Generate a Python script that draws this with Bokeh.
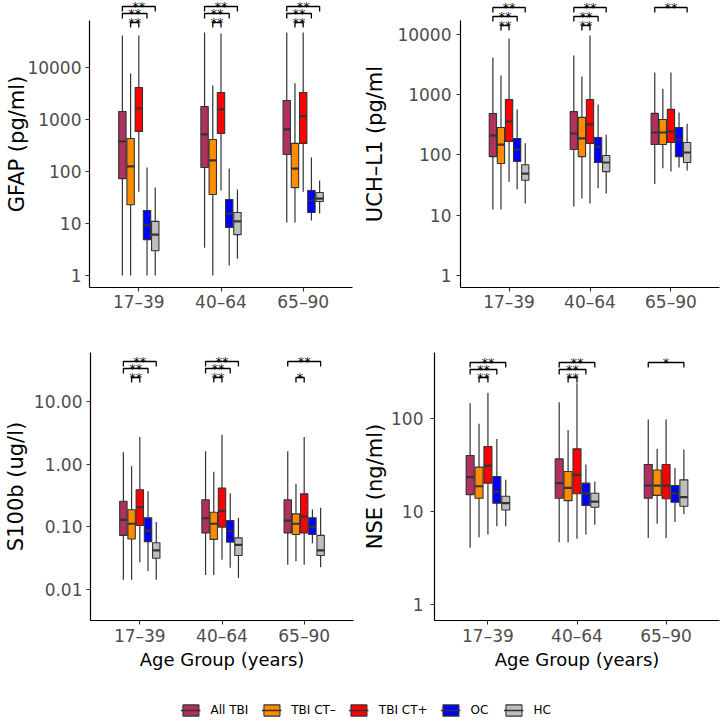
import numpy as np
from bokeh.plotting import figure
from bokeh.layouts import column, row
from bokeh.models import (ColumnDataSource, FixedTicker, NumeralTickFormatter,
                          Legend, LegendItem, Range1d)
from bokeh.core.properties import value
from bokeh.embed import file_html
from bokeh.resources import INLINE

# ---------------- data ----------------
age_groups = ["17–39", "40–64", "65–90"]
categories = ["All TBI", "TBI CT–", "TBI CT+", "OC", "HC"]
colors = ["#B03060", "#FF8C00", "#FF0000", "#0000FF", "#BEBEBE"]

# order: 17-39 (All, CT-, CT+, OC, HC), 40-64 (...), 65-90 (...)
gfap_low = [1, 1, 41, 1, 1, 3.4, 1, 43, 1.56, 2.1, 10.4, 10.4, 41, 11.4, 15.5]
gfap_q1 = [73, 23, 590, 4.9, 3.0, 119, 36, 540, 8.4, 6.1, 212, 49, 347, 16.3, 26.5]
gfap_med = [378, 125, 1625, 9.2, 6.1, 515, 163, 1560, 15.5, 11, 645, 114, 1150, 27.7, 30]
gfap_q3 = [1425, 431, 4125, 17.8, 11, 1780, 412, 3300, 29, 16.3, 2320, 347, 3300, 43, 39.5]
gfap_high = [41200, 7670, 41000, 119, 49, 47100, 4500, 45000, 114, 45, 47000, 5000, 47000, 186, 67]

uch_low = [12.5, 12.5, 36, 27, 15.7, 14, 19, 15.7, 28, 23, 33, 60, 53, 62, 55]
uch_q1 = [94, 72, 168, 78, 38, 123, 94, 156, 75, 53, 149, 149, 161, 94, 75]
uch_med = [211, 149, 360, 123, 49, 227, 188, 321, 138, 75, 236, 236, 245, 180, 110]
uch_q3 = [488, 286, 835, 188, 69, 525, 420, 835, 195, 98, 490, 388, 570, 286, 161]
uch_high = [4150, 2090, 8600, 569, 156, 4470, 2010, 9600, 689, 216, 2340, 1260, 2340, 507, 331]

s100_low = [0.0143, 0.0143, 0.0273, 0.0196, 0.0143, 0.0171, 0.0171, 0.0297, 0.0222, 0.0152,
            0.0248, 0.0283, 0.0248, 0.0548, 0.0227]
s100_q1 = [0.073, 0.064, 0.105, 0.058, 0.0316, 0.080, 0.063, 0.099, 0.057, 0.0349,
           0.080, 0.0755, 0.080, 0.0755, 0.0349]
s100_med = [0.129, 0.112, 0.206, 0.087, 0.042, 0.137, 0.112, 0.178, 0.085, 0.0516,
            0.126, 0.112, 0.146, 0.099, 0.042]
s100_q3 = [0.256, 0.187, 0.39, 0.139, 0.0556, 0.27, 0.171, 0.414, 0.126, 0.0667,
           0.27, 0.161, 0.336, 0.139, 0.073]
s100_high = [1.55, 0.93, 2.7, 0.37, 0.119, 1.61, 0.76, 2.94, 0.344, 0.139,
             1.61, 0.485, 2.7, 0.189, 0.201]

nse_low = [4.07, 5.3, 5.66, 6.95, 6.95, 4.68, 4.68, 5.08, 5.66, 7.19, 5.2, 7.4, 5.2, 7.7, 9.4]
nse_q1 = [15.2, 13.9, 20.2, 12.3, 10.4, 13.9, 13.1, 15.5, 11.6, 11.1, 13.9, 14.9, 13.7, 12.6, 11.4]
nse_med = [23.4, 18.7, 31.2, 16.4, 12.3, 20.2, 18, 24.8, 15.7, 12.8, 19, 19, 19, 15.7, 14.3]
nse_q3 = [40, 30, 50, 23.8, 14.6, 36.8, 26.9, 47.2, 20.2, 15.7, 32, 28, 32, 19, 21.9]
nse_high = [146, 87.7, 189, 60.4, 21.9, 150, 75.5, 240, 32, 21, 97.5, 47.2, 97.5, 29.3, 46.5]

# axis limits
gfap_ylim = (0.588, 194000)
uch_ylim = (0.632, 36600)
s100_ylim = (0.0032, 60.5)
nse_ylim = (0.673, 513)
gfap_axis_top = 80100
uch_axis_top = 17100

# significance comparisons: (group index, category a, category b, level, label)
sig_full = [(0, 0, 4, 2, "**"), (0, 0, 3, 1, "**"), (0, 1, 2, 0, "**")]
def per_group(g):
    return [(g, a, b, lv, lab) for (_, a, b, lv, lab) in sig_full]
gfap_sig = per_group(0) + per_group(1) + per_group(2)
uch_sig = per_group(0) + per_group(1) + [(2, 0, 4, 2, "**")]
s100_sig = per_group(0) + per_group(1) + [(2, 0, 4, 2, "**"), (2, 1, 2, 0, "*")]
nse_sig = per_group(0) + per_group(1) + [(2, 0, 4, 2, "*")]

# ---------------- style ----------------
FONT = "DejaVu Sans"
OUTLINE = "#333333"
BOX_W = 0.09
DODGE = 0.1
TIP_PX = 5


def make_panel(ylabel, low, q1, med, q3, high, ylim, yticks, fmt, sig, sig_px,
               width, height, mbl, mbr, mbt, mbb, ylab_standoff, ytick_std=4,
               xlabel=None, axis_top=None, xlab_std=0):
    p = figure(width=width, height=height, x_range=Range1d(0.4, 3.6),
               y_range=Range1d(*ylim), y_axis_type="log",
               output_backend="svg", toolbar_location=None,
               min_border_left=mbl, min_border_right=mbr,
               min_border_top=mbt, min_border_bottom=mbb)
    gi = np.repeat(np.arange(len(age_groups)), len(categories))
    ci = np.tile(np.arange(len(categories)), len(age_groups))
    x = (gi + 1) + (ci - (len(categories) - 1) / 2) * DODGE
    src = ColumnDataSource(dict(
        x=x, xl=x - BOX_W / 2, xr=x + BOX_W / 2,
        low=low, q1=q1, med=med, q3=q3, high=high,
        color=[colors[c] for c in ci]))
    p.segment(x0="x", y0="low", x1="x", y1="high", source=src,
              line_color=OUTLINE, line_width=1.2)
    p.vbar(x="x", width=BOX_W, bottom="q1", top="q3", source=src,
           fill_color="color", line_color=OUTLINE, line_width=1.1)
    p.segment(x0="xl", y0="med", x1="xr", y1="med", source=src,
              line_color=OUTLINE, line_width=2.2)

    # significance brackets
    frame_h = height - mbt - mbb
    ppd = frame_h / np.log10(ylim[1] / ylim[0])
    levels = [ylim[1] / 10 ** (px / ppd) for px in sig_px]
    tipf = 10 ** (TIP_PX / ppd)
    xs, ys, tx, ty, tl = [], [], [], [], []
    for (g, a, b, lv, lab) in sig:
        x0 = g + 1 + (a - 2) * DODGE
        x1 = g + 1 + (b - 2) * DODGE
        y = levels[lv]
        xs.append([x0, x0, x1, x1])
        ys.append([y / tipf, y, y, y / tipf])
        tx.append((x0 + x1) / 2)
        ty.append(y)
        tl.append(lab)
    p.multi_line(xs=xs, ys=ys, line_color="black", line_width=1.3)
    p.text(x=tx, y=ty, text=tl, text_align="center", text_baseline="middle",
           text_font=value(FONT), text_font_size="13px", text_color="#000000",
           text_alpha=0.98)

    p.xaxis.ticker = FixedTicker(ticks=[1, 2, 3])
    p.xaxis.major_label_overrides = {i + 1: g for i, g in enumerate(age_groups)}
    p.yaxis.ticker = FixedTicker(ticks=yticks)
    p.yaxis.formatter = NumeralTickFormatter(format=fmt)
    for ax in p.axis:
        ax.minor_tick_line_color = None
        ax.major_tick_in = 0
        ax.major_tick_out = 4
        ax.major_tick_line_color = OUTLINE
        ax.major_tick_line_width = 1.1
        ax.axis_line_color = "black"
        ax.axis_line_width = 1.2
        ax.major_label_text_font = FONT
        ax.major_label_text_font_size = "17px"
        ax.major_label_text_color = "#4D4D4D"
        ax.axis_label_text_font = FONT
        ax.axis_label_text_font_style = "normal"
        ax.axis_label_text_color = "black"
    p.yaxis.major_label_standoff = ytick_std
    p.xaxis.major_label_standoff = xlab_std
    p.yaxis.axis_label = ylabel
    p.yaxis.axis_label_text_font_size = "21px"
    p.yaxis.axis_label_standoff = ylab_standoff
    if xlabel:
        p.xaxis.axis_label = xlabel
        p.xaxis.axis_label_text_font_size = "18px"
        p.xaxis.axis_label_standoff = 0
    if axis_top is not None:
        p.yaxis.bounds = (ylim[0], axis_top)
    p.grid.visible = False
    p.outline_line_color = None
    return p


tl = make_panel("GFAP (pg/ml)", gfap_low, gfap_q1, gfap_med, gfap_q3, gfap_high,
                gfap_ylim, [1, 10, 100, 1000, 10000], "0", gfap_sig, [22, 13, 6],
                360, 320, 89, 8, 0, 33, -5, axis_top=gfap_axis_top, xlab_std=0)
tr = make_panel("UCH–L1 (pg/ml", uch_low, uch_q1, uch_med, uch_q3, uch_high,
                uch_ylim, [1, 10, 100, 1000, 10000], "0", uch_sig, [25, 16, 7],
                360, 320, 97, 1, 0, 33, 7, ytick_std=5, axis_top=uch_axis_top, xlab_std=0)
bl = make_panel("S100b (ug/l)", s100_low, s100_q1, s100_med, s100_q3, s100_high,
                s100_ylim, [0.01, 0.1, 1, 10], "0.00", s100_sig, [25, 16, 9],
                360, 355, 84, 7, 32, 55, 3, xlabel="Age Group (years)", xlab_std=1)
br = make_panel("NSE (ng/ml)", nse_low, nse_q1, nse_med, nse_q3, nse_high,
                nse_ylim, [1, 10, 100], "0", nse_sig, [25, 17, 10],
                360, 355, 74, 1, 32, 55, 1, ytick_std=7, xlabel="Age Group (years)", xlab_std=1)

# ---------------- legend ----------------
leg = figure(width=720, height=47, x_axis_type=None, y_axis_type=None,
             x_range=Range1d(0, 1), y_range=Range1d(0, 1),
             toolbar_location=None, output_backend="svg",
             min_border_left=14, min_border_right=0, min_border_top=23,
             min_border_bottom=0)
leg.outline_line_color = None
leg.grid.visible = False
items = []
# placeholder renderers (kept outside the visible range) that only feed the legend keys
for cat, col in zip(categories, colors):
    esrc = ColumnDataSource(dict(x=[-5], y=[-5]))
    r1 = leg.vbar(x="x", top="y", width=1, source=esrc, fill_color=col,
                  line_color=OUTLINE, line_width=1.1)
    r2 = leg.line(x="x", y="y", source=esrc, line_color=OUTLINE, line_width=1.6)
    items.append(LegendItem(label=cat, renderers=[r1, r2]))
legend = Legend(items=items, orientation="horizontal", location="center",
                border_line_color=None, background_fill_alpha=0,
                padding=0, margin=0, spacing=13, label_standoff=10,
                glyph_width=20, glyph_height=14,
                label_text_font=FONT, label_text_font_size="12px",
                label_text_color="black")
leg.add_layout(legend, "center")

layout = column(row(tl, tr), row(bl, br), leg)
open("out.html", "w").write(file_html(layout, INLINE))
